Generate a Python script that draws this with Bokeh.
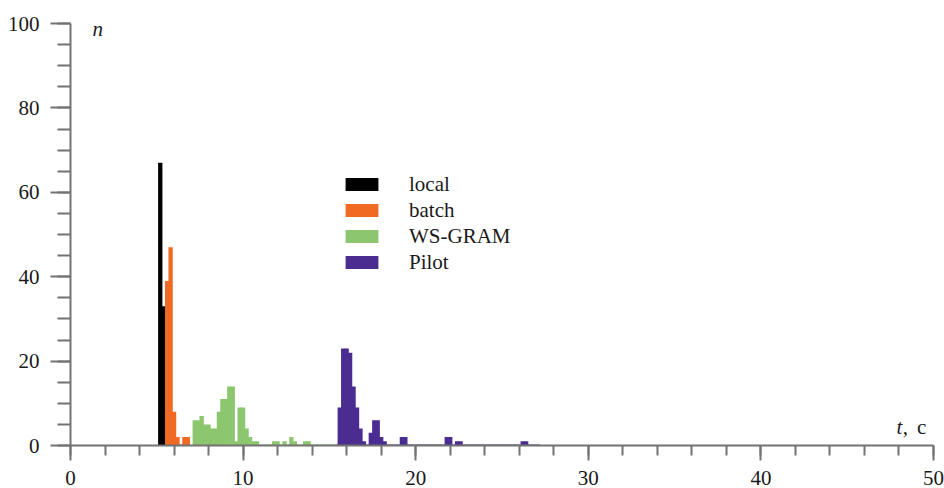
from bokeh.plotting import figure
from bokeh.models import FixedTicker, Range1d, Legend, LegendItem, Label
from bokeh.embed import file_html
from bokeh.resources import INLINE

# Response-time histograms, bin width 0.2 s (bin centres / counts)
local_t = [5.2, 5.4]
local_n = [67, 33]

batch_t = [5.6, 5.8, 6.0, 6.2, 6.6, 6.8]
batch_n = [39, 47, 8, 2, 2, 2]

wsgram_t = [7.2, 7.4, 7.6, 7.8, 8.0, 8.2, 8.4, 8.6, 8.8, 9.0, 9.2, 9.4, 9.6,
            9.8, 10.0, 10.2, 10.4, 10.6, 10.8, 11.8, 12.0, 12.4, 12.8, 13.0,
            13.6, 13.8]
wsgram_n = [6, 6, 7, 5, 5, 4, 4, 8, 11, 11, 14, 14, 1,
            9, 9, 4, 2, 1, 1, 1, 1, 1, 2, 1,
            1, 1]

pilot_t = [15.6, 15.8, 16.0, 16.2, 16.4, 16.6, 16.8, 17.0, 17.4, 17.6, 17.8,
           18.0, 18.2, 19.2, 19.4, 21.8, 22.0, 22.4, 22.6, 26.2, 26.4]
pilot_n = [9, 23, 23, 22, 14, 9, 4, 1, 3, 6, 6,
           2, 1, 2, 2, 2, 2, 1, 1, 1, 1]

# time span covered by each series (drawn as a coloured base line)
local_span = [5.1, 5.5]
batch_span = [5.5, 6.9]
wsgram_span = [7.1, 15.4]
pilot_span = [15.4, 27.2]

names = ["local", "batch", "WS-GRAM", "Pilot"]
colors = ["#000000", "#f06a24", "#8cc66e", "#4b2c90"]

x_major = [0, 10, 20, 30, 40, 50]
x_minor = [0, 2, 4, 6, 8, 10, 12, 14, 16, 18, 20, 22, 24, 26, 28, 30,
           32, 34, 36, 38, 40, 42, 44, 46, 48, 50]
y_major = [0, 20, 40, 60, 80, 100]
y_minor = [0, 5, 10, 15, 20, 25, 30, 35, 40, 45, 50, 55, 60, 65, 70, 75,
           80, 85, 90, 95, 100]

BIN = 0.2
FONT = "Liberation Serif"
AXIS_GREY = "#737373"
TEXT = "#1a1a1a"
FS = "21px"

p = figure(width=944, height=488, output_backend="svg", toolbar_location=None,
           x_range=Range1d(0, 50), y_range=Range1d(0, 100),
           min_border_left=70, min_border_right=11,
           min_border_top=23, min_border_bottom=43)
p.outline_line_color = None
p.xgrid.grid_line_color = None
p.ygrid.grid_line_color = None
p.background_fill_color = "white"
p.border_fill_color = "white"

for ax, major, minor, mout, nout in ((p.xaxis[0], x_major, x_minor, 15, 10),
                                     (p.yaxis[0], y_major, y_minor, 20, 13)):
    ax.ticker = FixedTicker(ticks=major, minor_ticks=minor)
    ax.axis_line_color = AXIS_GREY
    ax.axis_line_width = 2
    ax.major_tick_line_color = AXIS_GREY
    ax.major_tick_line_width = 2
    ax.minor_tick_line_color = AXIS_GREY
    ax.minor_tick_line_width = 2
    ax.major_tick_in = 0
    ax.major_tick_out = mout
    ax.minor_tick_in = 0
    ax.minor_tick_out = nout
    ax.major_label_text_font = FONT
    ax.major_label_text_font_size = FS
    ax.major_label_text_color = TEXT
p.xaxis[0].major_label_standoff = 10
p.yaxis[0].major_label_standoff = 11

series = [(local_t, local_n, local_span), (batch_t, batch_n, batch_span),
          (wsgram_t, wsgram_n, wsgram_span), (pilot_t, pilot_n, pilot_span)]

items = []
for (t, n, span), name, col in zip(series, names, colors):
    p.line(x=span, y=[0, 0], line_color=col, line_width=2)
    # neighbouring bins overlap a little so the histogram reads as solid
    r = p.vbar(x=t, top=n, width=BIN * 1.25, fill_color=col, line_color=None)
    items.append(LegendItem(label=name, renderers=[r]))

legend = Legend(items=items, location=(271, 170),
                glyph_width=41, glyph_height=16, label_height=26,
                label_standoff=27, spacing=0, padding=0, margin=0,
                label_text_font=FONT, label_text_font_size=FS,
                label_text_color=TEXT,
                border_line_color=None, background_fill_alpha=0)
p.add_layout(legend, "center")

p.add_layout(Label(x=1.27, y=98.6, text="n", text_font=FONT,
                   text_font_style="italic", text_font_size=FS,
                   text_color=TEXT, text_baseline="alphabetic"))
p.add_layout(Label(x=47.85, y=4.3, text="t", text_font=FONT,
                   text_font_style="italic", text_font_size=FS,
                   text_color=TEXT, text_baseline="alphabetic"))
p.add_layout(Label(x=48.22, y=4.3, text=",", text_font=FONT,
                   text_font_size=FS,
                   text_color=TEXT, text_baseline="alphabetic"))
p.add_layout(Label(x=49.05, y=4.3, text="c", text_font=FONT,
                   text_font_size=FS,
                   text_color=TEXT, text_baseline="alphabetic"))

open("out.html", "w").write(file_html(p, INLINE))
